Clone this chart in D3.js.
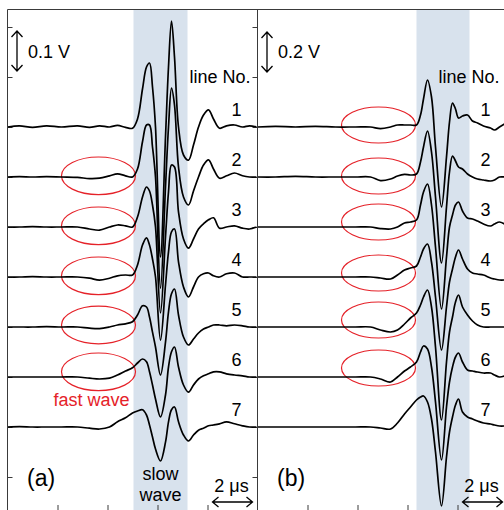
<!DOCTYPE html>
<html>
<head>
<meta charset="utf-8">
<script src="https://cdn.jsdelivr.net/npm/d3@7"></script>
<style>
  body { margin: 0; background: #fff; }
  svg text { font-family: "Liberation Sans", Arial, sans-serif; }
</style>
</head>
<body>
<div id="chart"></div>
<script>
// time grid (μs) shared by all lines of a panel, values in mV relative to each line's baseline
const timesA = [0, 0.6, 1.25, 1.95, 2.7, 3.5, 4.1, 4.6, 5.1, 5.5, 5.9, 6.25, 6.5, 6.75, 6.95, 7.1, 7.25, 7.4, 7.65, 7.9, 8.05, 8.2, 8.35, 8.55, 8.8, 9.05, 9.3, 9.55, 9.8, 10.05, 10.3, 10.6, 10.95, 11.35, 11.75, 12.1, 12.45];
const lineA1 = [0, 3, -1, 3, 0, 3, -1, 3, 0, 4, -1, -3, 20, 95, 150, 160, 100, 0, -325, -25, 150, 265, 175, 0, -70, -83, -45, 0, 30, 43, 20, -3, 3, 5, 0, 3, 0];
const lineA2 = [0, 1, 0, 1, 0, -1, -4, -3, 3, 8, 3, 0, 20, 88, 130, 130, 75, 0, -278, -25, 125, 222, 180, 25, -50, -70, -35, 0, 30, 43, 20, -3, 3, 10, 3, 0, 0];
const lineA3 = [0, 0, 1, 0, 0, 0, -5, -8, 0, 5, 3, 0, 25, 75, 100, 90, 55, 0, -215, -25, 88, 155, 150, 38, -30, -53, -30, -5, 8, 18, 23, -3, 0, 3, -3, -5, 0];
const lineA4 = [0, 0, 1, 0, 0, 0, -3, -8, -3, 3, 5, 5, 30, 80, 98, 80, 45, 0, -158, -20, 63, 113, 120, 38, -25, -50, -25, 0, 8, 10, 3, 0, 8, 10, 0, 0, 0];
const lineA5 = [0, 0, 0, 1, 0, 0, -3, -4, 0, 5, 8, 13, 30, 53, 50, 25, -13, -50, -120, -38, 38, 83, 95, 30, -25, -45, -30, -15, -5, 0, 5, 5, 3, 5, 3, 0, 0];
const lineA6 = [0, 0, 0, 0, 0, 0, -3, -5, -3, 5, 15, 23, 35, 45, 38, 13, -20, -55, -100, -45, 25, 63, 75, 25, -20, -38, -20, -5, 3, 8, 13, 13, 8, 5, 3, 0, 0];
const lineA7 = [0, 1, 0, 0, 0, 0, -3, -5, 0, 13, 23, 35, 40, 43, 30, 5, -25, -55, -85, -38, 13, 43, 50, 13, -20, -35, -20, -8, -3, 3, 5, 8, 13, 8, 3, 0, 0];

const timesB = [0, 0.9, 1.9, 2.9, 3.9, 4.9, 5.65, 6.15, 6.65, 7.0, 7.35, 7.65, 7.95, 8.15, 8.3, 8.5, 8.7, 8.9, 9.2, 9.45, 9.6, 9.75, 9.9, 10.05, 10.25, 10.5, 10.75, 11.0, 11.3, 11.65, 11.85, 12.1, 12.35];
const lineB1 = [0, 3, 0, 3, 0, 0, 0, -8, 0, 10, 10, 10, 10, 60, 140, 235, 150, -100, -400, -150, 25, 120, 90, 45, 55, 60, 30, 20, 5, -5, -15, 0, 15];
const lineB2 = [0, 0, 3, 0, 0, 0, 0, -18, -10, 5, 13, 10, 15, 75, 150, 230, 125, -100, -430, -150, 25, 105, 80, 50, 40, 15, 0, -10, -15, -20, -15, 0, 0];
const lineB3 = [0, 0, 0, 0, 0, 0, 0, -8, -10, 0, 20, 25, 35, 110, 175, 215, 110, -100, -410, -150, 0, 60, 110, 125, 80, 45, 40, 30, 15, 5, 15, 25, 15];
const lineB4 = [0, 0, 0, 0, 0, 0, 0, -5, -10, 10, 35, 45, 55, 100, 140, 165, 75, -100, -365, -150, -25, 40, 100, 135, 90, 40, 20, 15, 10, -5, -10, -15, -15];
const lineB5 = [0, 0, 0, 0, 0, 0, 0, -15, -25, -15, 15, 45, 70, 110, 150, 185, 100, -100, -465, -175, -25, 50, 125, 160, 100, 60, 30, 10, 0, 0, 0, 0, 0];
const lineB6 = [0, 0, 0, 0, 0, 0, 0, -10, -25, 0, 30, 50, 75, 125, 155, 140, 50, -125, -415, -150, -25, 50, 100, 120, 75, 35, 30, 25, 20, 20, 10, 0, 5];
const lineB7 = [0, 0, 0, 0, 0, 0, 0, -5, -10, 20, 65, 100, 135, 150, 155, 125, 40, -125, -395, -150, -25, 50, 110, 140, 75, 50, 40, 30, 20, 15, 10, 5, 5];

const lineNo = [1, 2, 3, 4, 5, 6, 7];
const timeTicks = [2.5, 5, 7.5, 10];
// fast wave marks: which lines, and ellipse centre offset (mV)
const fastLinesA = [2, 3, 4, 5, 6];
const fastOffsetA = [3, 3, 3, 5, 13];
const fastLinesB = [1, 2, 3, 4, 5, 6];
const fastOffsetB = [10, 5, 25, 20, 35, 45];

const W = 504, H = 510;
const frameTop = 9.5, bottomAxis = 511;

const svg = d3.select('#chart').append('svg')
  .attr('width', W)
  .attr('height', H);

const panels = [
  { left: 7.5, times: timesA, lines: [lineA1, lineA2, lineA3, lineA4, lineA5, lineA6, lineA7],
    step: 125, pxPerV: 400, band: [6.3, 9.0], scaleV: [140, 240], scaleLabel: '0.1 V',
    fastLines: fastLinesA, fastOffset: fastOffsetA, fastT: 4.55, fastHalfT: 1.85, fastHalfV: 47,
    label: '(a)', numT: 11.45, lineNoT: 9.1, slow: true },
  { left: 257.5, times: timesB, lines: [lineB1, lineB2, lineB3, lineB4, lineB5, lineB6, lineB7],
    step: 250, pxPerV: 200, band: [7.95, 10.6], scaleV: [275, 475], scaleLabel: '0.2 V',
    fastLines: fastLinesB, fastOffset: fastOffsetB, fastT: 6.05, fastHalfT: 1.85, fastHalfV: 90,
    label: '(b)', numT: 11.4, lineNoT: 9.05, slow: false }
];

const frameColor = '#3a3a3a';
const red = '#e52229';

panels.forEach((p, pi) => {
  const x = d3.scaleLinear().domain([0, 12.5]).range([p.left, p.left + 250]);
  const y = d3.scaleLinear().domain([0, 1000]).range([127, 127 - p.pxPerV]);
  const g = svg.append('g');

  // slow wave band
  g.append('rect')
    .attr('x', x(p.band[0]))
    .attr('y', frameTop)
    .attr('width', x(p.band[1]) - x(p.band[0]))
    .attr('height', H)
    .attr('fill', '#d8e2ed');

  // inside ticks
  const yTicks = d3.range(-7, 3).map(k => k * p.step);
  if (pi === 0) {
    g.append('g')
      .attr('transform', `translate(${p.left},0)`)
      .call(d3.axisRight(y).tickValues(yTicks).tickSize(5).tickFormat(''))
      .call(a => a.select('.domain').remove())
      .call(a => a.selectAll('line').attr('stroke', frameColor));
    g.append('g')
      .attr('transform', `translate(${p.left + 250},0)`)
      .call(d3.axisLeft(y).tickValues(yTicks).tickSize(5).tickFormat(''))
      .call(a => a.select('.domain').remove())
      .call(a => a.selectAll('line').attr('stroke', frameColor));
  }
  g.append('g')
    .attr('transform', `translate(0,${bottomAxis})`)
    .call(d3.axisTop(x).tickValues(timeTicks).tickSize(6).tickFormat(''))
    .call(a => a.select('.domain').remove())
    .call(a => a.selectAll('line').attr('stroke', frameColor));

  // fast wave ellipses
  p.fastLines.forEach((n, i) => {
    const base = -(n - 1) * p.step + p.fastOffset[i];
    g.append('ellipse')
      .attr('cx', x(p.fastT))
      .attr('cy', y(base))
      .attr('rx', x(p.fastT + p.fastHalfT) - x(p.fastT))
      .attr('ry', y(0) - y(p.fastHalfV))
      .attr('fill', 'none')
      .attr('stroke', red)
      .attr('stroke-width', 1.2);
  });

  // traces
  p.lines.forEach((vals, k) => {
    const line = d3.line()
      .x((d, i) => x(p.times[i]))
      .y(d => y(d - k * p.step))
      .curve(d3.curveCatmullRom.alpha(0.5));
    g.append('path')
      .datum(vals)
      .attr('fill', 'none')
      .attr('stroke', '#000')
      .attr('stroke-width', 1.7)
      .attr('stroke-linejoin', 'round')
      .attr('d', line);

    g.append('text')
      .attr('x', x(p.numT))
      .attr('y', y(-k * p.step) - 11)
      .attr('text-anchor', 'middle')
      .attr('font-size', 18)
      .text(lineNo[k]);
  });

  g.append('text')
    .attr('x', x(p.lineNoT))
    .attr('y', 83)
    .attr('font-size', 18)
    .text('line No.');

  // voltage scale arrow
  const ax = p.left + 9.5;
  const y0 = y(p.scaleV[1]), y1 = y(p.scaleV[0]);
  g.append('path')
    .attr('d', `M${ax},${y0}V${y1}M${ax - 5.5},${y0 + 6}L${ax},${y0}L${ax + 5.5},${y0 + 6}M${ax - 5.5},${y1 - 6}L${ax},${y1}L${ax + 5.5},${y1 - 6}`)
    .attr('fill', 'none')
    .attr('stroke', '#000')
    .attr('stroke-width', 1.3);
  g.append('text')
    .attr('x', p.left + 20.5)
    .attr('y', 58)
    .attr('font-size', 18)
    .text(p.scaleLabel);

  // time scale arrow (2 μs)
  const tx0 = x(10.25), tx1 = x(12.25), ty = 502;
  g.append('path')
    .attr('d', `M${tx0},${ty}H${tx1}M${tx0 + 6},${ty - 5}L${tx0},${ty}L${tx0 + 6},${ty + 5}M${tx1 - 6},${ty - 5}L${tx1},${ty}L${tx1 - 6},${ty + 5}`)
    .attr('fill', 'none')
    .attr('stroke', '#000')
    .attr('stroke-width', 1.3);
  g.append('text')
    .attr('x', x(11.2))
    .attr('y', 492)
    .attr('text-anchor', 'middle')
    .attr('font-size', 18)
    .text('2 μs');

  g.append('text')
    .attr('x', p.left + 19.5)
    .attr('y', 486)
    .attr('font-size', 23)
    .text(p.label);

  if (p.slow) {
    const cx = x((p.band[0] + p.band[1]) / 2);
    g.append('text').attr('x', cx).attr('y', 480).attr('text-anchor', 'middle').attr('font-size', 18).text('slow');
    g.append('text').attr('x', cx).attr('y', 501).attr('text-anchor', 'middle').attr('font-size', 18).text('wave');
    g.append('text').attr('x', x(4.2)).attr('y', 406).attr('text-anchor', 'middle')
      .attr('font-size', 18).attr('fill', red).text('fast wave');
  }
});

// frame
svg.append('path')
  .attr('d', `M7.5,${bottomAxis}V${frameTop}H${W}M257.5,${frameTop}V${bottomAxis}`)
  .attr('fill', 'none')
  .attr('stroke', frameColor)
  .attr('stroke-width', 1);
</script>
</body>
</html>
